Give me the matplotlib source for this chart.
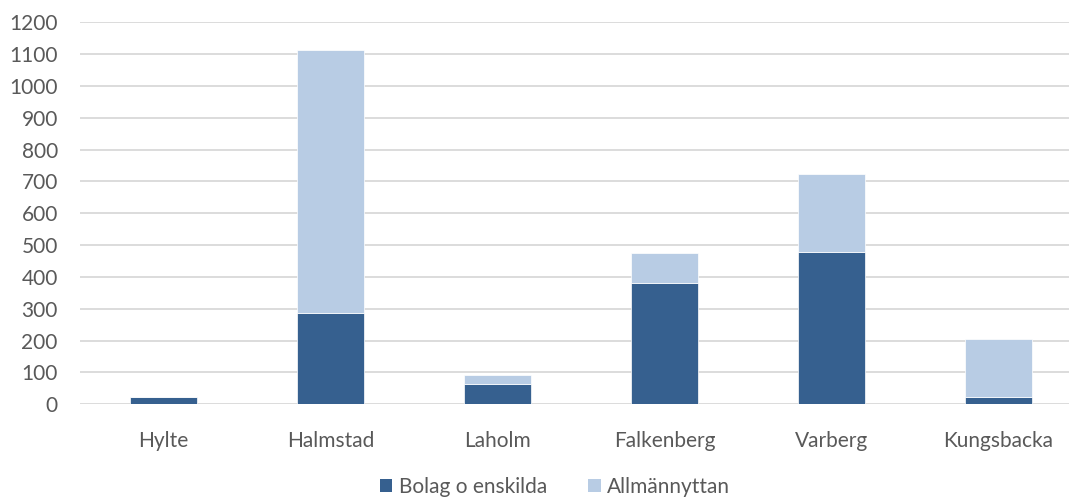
import matplotlib
matplotlib.use("Agg")
import matplotlib.pyplot as plt
from matplotlib.patches import Patch
import numpy as np

categories = ["Hylte", "Halmstad", "Laholm", "Falkenberg", "Varberg", "Kungsbacka"]
bolag = [23, 287, 65, 381, 478, 23]
allmannyttan = [0, 826, 28, 95, 247, 181]
yticks = list(range(0, 1300, 100))

plt.rcParams['font.family'] = ['Lato', 'DejaVu Sans']
text_color = "#595959"
dark = "#36608F"
light = "#B8CCE4"

fig = plt.figure(figsize=(10.69, 4.97), dpi=100)
ax = fig.add_axes([80/1069, (497-404.3)/497, 1002/1069, (404.3-22.3)/497])

x = np.arange(len(categories))
ax.bar(x, bolag, width=0.4, color=dark, edgecolor="white", linewidth=0.5, zorder=3)
ax.bar(x, allmannyttan, width=0.4, bottom=bolag, color=light, edgecolor="white", linewidth=0.5, zorder=3)

ax.set_xlim(-0.5, 5.5)
ax.set_ylim(0, 1200)
ax.set_yticks(yticks)
ax.set_yticklabels([str(v) for v in yticks])
ax.set_xticks(x)
ax.set_xticklabels(categories)
ax.tick_params(axis='both', length=0, labelsize=15, colors=text_color)
ax.tick_params(axis='y', pad=16)
ax.tick_params(axis='x', pad=19)
ax.grid(axis='y', color="#D9D9D9", linewidth=1.3, zorder=0)
for s in ax.spines.values():
    s.set_visible(False)

handles = [Patch(facecolor=dark, label="Bolag o enskilda"),
           Patch(facecolor=light, label="Allmännyttan")]
fig.legend(handles=handles, loc="center", bbox_to_anchor=(555/1069, 1-487/497), ncol=2,
           frameon=False, fontsize=15, labelcolor=text_color, handlelength=0.6,
           handleheight=0.6, handletextpad=0.3, columnspacing=2.0)

fig.savefig("out.png", dpi=100)
